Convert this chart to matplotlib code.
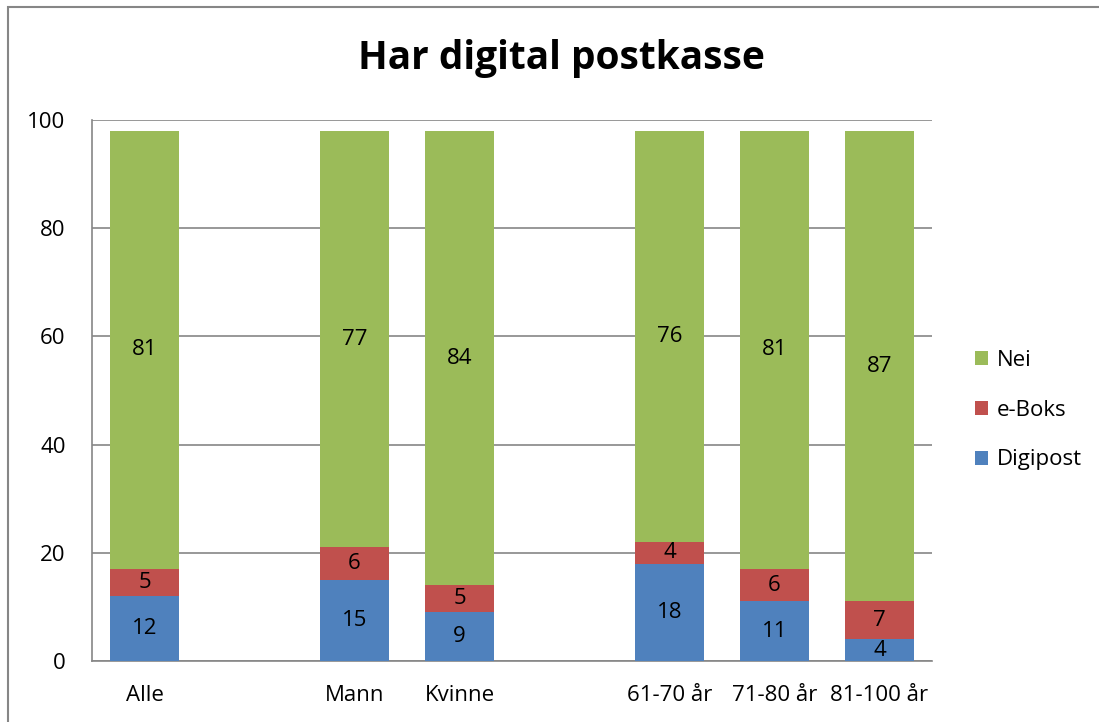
import matplotlib
matplotlib.use("Agg")
import matplotlib.pyplot as plt
import matplotlib.patches as patches
import numpy as np

plt.rcParams['font.family'] = ['Open Sans', 'DejaVu Sans']

categories = ["Alle", "", "Mann", "Kvinne", "", "61-70 år", "71-80 år", "81-100 år"]
digipost = [12, None, 15, 9, None, 18, 11, 4]
eboks = [5, None, 6, 5, None, 4, 6, 7]
nei = [81, None, 77, 84, None, 76, 81, 87]

series = [("Digipost", digipost, "#4F81BD"),
          ("e-Boks", eboks, "#C0504D"),
          ("Nei", nei, "#9BBB59")]

fig = plt.figure(figsize=(10.99, 7.22), dpi=100)
ax = fig.add_axes([92 / 1099, 61 / 722, 840 / 1099, 541 / 722])

x = np.arange(len(categories))
bottom = np.zeros(len(categories))
handles = []
for name, vals, color in series:
    v = np.array([0 if a is None else a for a in vals], dtype=float)
    bars = ax.bar(x, v, 0.65, bottom=bottom, color=color, label=name, zorder=3)
    for xi, val, b in zip(x, vals, bottom):
        if val is not None:
            ax.text(xi, b + val / 2, str(val), ha="center", va="center",
                    fontsize=16, color="black", zorder=4)
    handles.append(bars)
    bottom += v

ax.set_xlim(-0.5, len(categories) - 0.5)
ax.set_ylim(0, 100)
ax.set_yticks(range(0, 101, 20))
ax.set_xticks(x)
ax.set_xticklabels(categories, fontsize=16)
ax.tick_params(axis="both", length=0, labelsize=16)
ax.tick_params(axis="y", pad=19)
ax.tick_params(axis="x", pad=17)
ax.grid(axis="y", color="#868686", linewidth=1.2, zorder=0)
for s in ["top", "right"]:
    ax.spines[s].set_visible(False)
for s in ["left", "bottom"]:
    ax.spines[s].set_color("#868686")
    ax.spines[s].set_linewidth(1.2)

fig.text(561 / 1099, 1 - 58 / 722, "Har digital postkasse", ha="center", va="center",
         fontsize=28, fontweight="bold")

leg = fig.legend(handles[::-1], [s[0] for s in series][::-1],
                 loc="center left", bbox_to_anchor=(955 / 1099, 1 - 410 / 722),
                 frameon=False, fontsize=16, handlelength=0.6, handleheight=0.6,
                 labelspacing=1.3, handletextpad=0.4)

fig.patches.append(patches.Rectangle((8 / 1099, -0.1), 1.2, 1 - 7 / 722 + 0.1,
                                     transform=fig.transFigure, fill=False,
                                     edgecolor="#868686", linewidth=1.5))

fig.savefig("out.png", dpi=100)
